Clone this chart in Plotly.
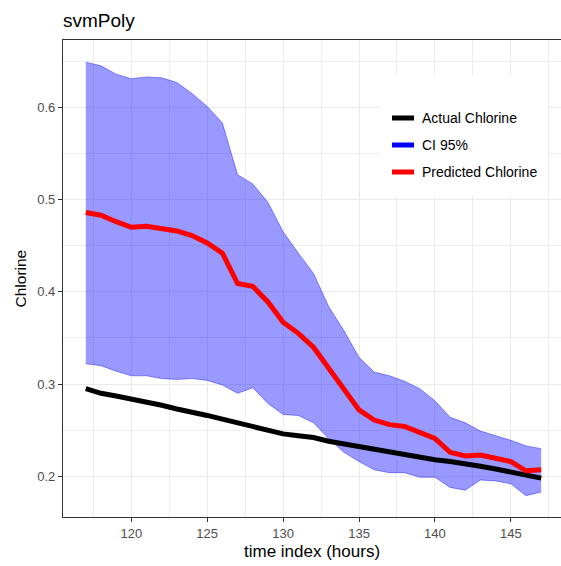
import plotly.graph_objects as go

# time index (hours)
hours = list(range(117, 148))

actual_chlorine = [0.295, 0.290, 0.287, 0.284, 0.280, 0.277, 0.273, 0.270, 0.266, 0.262,
                   0.258, 0.254, 0.250, 0.246, 0.244, 0.242, 0.238, 0.235, 0.232, 0.229,
                   0.226, 0.224, 0.221, 0.218, 0.216, 0.214, 0.211, 0.208, 0.205, 0.202,
                   0.198]

predicted_chlorine = [0.486, 0.483, 0.476, 0.470, 0.471, 0.469, 0.466, 0.461, 0.453, 0.442,
                      0.409, 0.406, 0.389, 0.367, 0.355, 0.340, 0.317, 0.295, 0.272, 0.261,
                      0.256, 0.254, 0.247, 0.241, 0.226, 0.222, 0.223, 0.219, 0.216, 0.206,
                      0.207]

ci_upper = [0.649, 0.645, 0.636, 0.631, 0.633, 0.632, 0.627, 0.615, 0.601, 0.583,
            0.527, 0.517, 0.497, 0.465, 0.442, 0.420, 0.384, 0.358, 0.329, 0.313,
            0.309, 0.303, 0.295, 0.282, 0.264, 0.258, 0.249, 0.244, 0.239, 0.233,
            0.230]

ci_lower = [0.322, 0.320, 0.314, 0.309, 0.309, 0.306, 0.305, 0.306, 0.304, 0.299,
            0.290, 0.296, 0.279, 0.267, 0.266, 0.258, 0.241, 0.226, 0.216, 0.207,
            0.204, 0.204, 0.199, 0.199, 0.188, 0.185, 0.196, 0.195, 0.192, 0.179,
            0.183]

legend_labels = ["Actual Chlorine", "CI 95%", "Predicted Chlorine"]
legend_colors = ["black", "blue", "red"]

FONT = "Liberation Sans, Arial, Helvetica, sans-serif"
W, H = 561, 566
ML, MR, MT, MB = 63, 0, 40, 49
PW, PH = W - ML - MR, H - MT - MB

band_color = "rgba(0,0,255,0.4)"

fig = go.Figure()

# confidence band
fig.add_trace(go.Scatter(x=hours, y=ci_lower, mode="lines",
                         line=dict(color=band_color, width=1),
                         showlegend=False, hoverinfo="skip"))
fig.add_trace(go.Scatter(x=hours, y=ci_upper, mode="lines", fill="tonexty",
                         fillcolor=band_color,
                         line=dict(color=band_color, width=1),
                         showlegend=False, name="CI 95%"))

fig.add_trace(go.Scatter(x=hours, y=actual_chlorine, mode="lines",
                         line=dict(color="black", width=5),
                         showlegend=False, name="Actual Chlorine"))
fig.add_trace(go.Scatter(x=hours, y=predicted_chlorine, mode="lines",
                         line=dict(color="red", width=5),
                         showlegend=False, name="Predicted Chlorine"))


def px_x(p):
    return (p - ML) / PW


def px_y(p):
    return (H - MB - p) / PH


# legend key drawn inside the panel
shapes = [dict(type="rect", xref="paper", yref="paper",
               x0=px_x(380), x1=px_x(547), y0=px_y(196), y1=px_y(75),
               fillcolor="white", line=dict(width=0), layer="above")]
annotations = []
row_y = [118, 145, 172]
for lab, col, ry in zip(legend_labels, legend_colors, row_y):
    shapes.append(dict(type="line", xref="paper", yref="paper",
                       x0=px_x(392), x1=px_x(414), y0=px_y(ry), y1=px_y(ry),
                       line=dict(color=col, width=5), layer="above"))
    annotations.append(dict(xref="paper", yref="paper", x=px_x(420), y=px_y(ry),
                            xanchor="left", yanchor="middle", showarrow=False,
                            text=lab, font=dict(family=FONT, size=14, color="black")))

# axis titles
annotations.append(dict(xref="paper", yref="paper", x=0.5, y=px_y(551),
                        xanchor="center", yanchor="middle", showarrow=False,
                        text="time index (hours)",
                        font=dict(family=FONT, size=17, color="black")))
annotations.append(dict(xref="paper", yref="paper", x=px_x(20), y=0.5,
                        xanchor="center", yanchor="middle", showarrow=False,
                        textangle=-90, text="Chlorine",
                        font=dict(family=FONT, size=15.5, color="black")))

fig.update_layout(
    width=W, height=H,
    margin=dict(l=ML, r=MR, t=MT, b=MB, pad=0),
    paper_bgcolor="white", plot_bgcolor="white",
    font=dict(family=FONT),
    title=dict(text="svmPoly", x=ML / W, xanchor="left", xref="container",
               y=1 - 20 / H, yanchor="middle", yref="container",
               font=dict(family=FONT, size=19, color="black")),
    shapes=shapes, annotations=annotations,
    showlegend=False,
)

fig.update_xaxes(
    range=[115.5, 115.5 + PW / 15.18],
    tickmode="linear", tick0=0, dtick=5,
    showgrid=True, gridcolor="#EBEBEB", gridwidth=1.3,
    minor=dict(dtick=2.5, tick0=0, showgrid=True, gridcolor="#EDEDED", gridwidth=0.8),
    ticks="outside", ticklen=4, tickwidth=1.1, tickcolor="#333333",
    tickfont=dict(family=FONT, size=13, color="#4D4D4D"),
    showline=True, linecolor="#333333", linewidth=1.2, mirror=True,
    zeroline=False,
)
fig.update_yaxes(
    range=[0.1559, 0.6730],
    tickmode="linear", tick0=0, dtick=0.1, tickformat=".1f",
    showgrid=True, gridcolor="#EBEBEB", gridwidth=1.3,
    minor=dict(dtick=0.05, tick0=0, showgrid=True, gridcolor="#EDEDED", gridwidth=0.8),
    ticks="outside", ticklen=4, tickwidth=1.1, tickcolor="#333333",
    tickfont=dict(family=FONT, size=13, color="#4D4D4D"),
    showline=True, linecolor="#333333", linewidth=1.2, mirror=False,
    zeroline=False,
)

fig.write_html("out.html")
